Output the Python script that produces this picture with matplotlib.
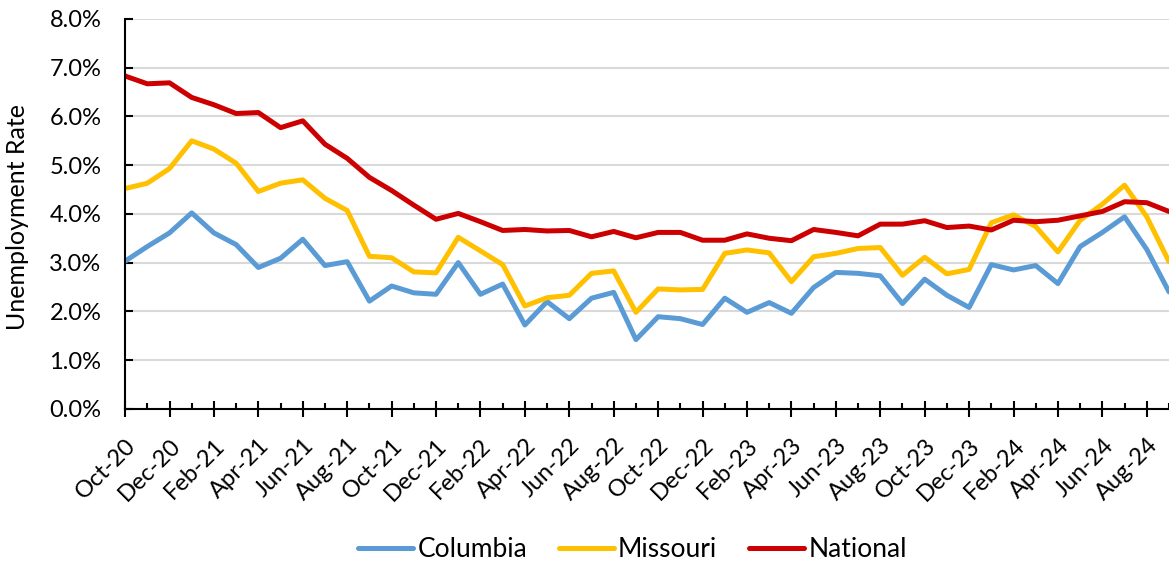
import numpy as np
import matplotlib.pyplot as plt
from matplotlib.ticker import PercentFormatter, MultipleLocator

plt.rcParams['font.family'] = ['Lato', 'DejaVu Sans']

# Monthly data, Oct-20 .. Sep-24
months = ["Oct-20", "Nov-20", "Dec-20", "Jan-21", "Feb-21", "Mar-21", "Apr-21", "May-21",
          "Jun-21", "Jul-21", "Aug-21", "Sep-21", "Oct-21", "Nov-21", "Dec-21", "Jan-22",
          "Feb-22", "Mar-22", "Apr-22", "May-22", "Jun-22", "Jul-22", "Aug-22", "Sep-22",
          "Oct-22", "Nov-22", "Dec-22", "Jan-23", "Feb-23", "Mar-23", "Apr-23", "May-23",
          "Jun-23", "Jul-23", "Aug-23", "Sep-23", "Oct-23", "Nov-23", "Dec-23", "Jan-24",
          "Feb-24", "Mar-24", "Apr-24", "May-24", "Jun-24", "Jul-24", "Aug-24", "Sep-24"]

columbia = [3.03, 3.33, 3.61, 4.02, 3.61, 3.37, 2.90, 3.09, 3.48, 2.94, 3.02, 2.21,
            2.52, 2.38, 2.35, 3.00, 2.35, 2.56, 1.72, 2.20, 1.85, 2.27, 2.39, 1.42,
            1.89, 1.85, 1.73, 2.27, 1.98, 2.18, 1.96, 2.49, 2.80, 2.78, 2.73, 2.16,
            2.66, 2.33, 2.08, 2.96, 2.85, 2.94, 2.57, 3.33, 3.62, 3.94, 3.27, 2.40]

missouri = [4.52, 4.63, 4.93, 5.50, 5.33, 5.04, 4.46, 4.63, 4.70, 4.32, 4.07, 3.13,
            3.10, 2.81, 2.79, 3.52, 3.24, 2.96, 2.11, 2.28, 2.33, 2.78, 2.83, 1.98,
            2.46, 2.44, 2.45, 3.19, 3.26, 3.20, 2.61, 3.12, 3.19, 3.29, 3.31, 2.74,
            3.11, 2.77, 2.86, 3.82, 3.98, 3.74, 3.22, 3.87, 4.20, 4.59, 3.94, 3.02]

national = [6.83, 6.67, 6.69, 6.39, 6.24, 6.06, 6.08, 5.77, 5.91, 5.43, 5.14, 4.75,
            4.48, 4.18, 3.89, 4.01, 3.84, 3.66, 3.68, 3.65, 3.66, 3.53, 3.64, 3.51,
            3.62, 3.62, 3.46, 3.46, 3.59, 3.50, 3.45, 3.68, 3.62, 3.55, 3.79, 3.79,
            3.86, 3.72, 3.75, 3.67, 3.87, 3.84, 3.87, 3.96, 4.05, 4.25, 4.23, 4.05]

x = np.arange(len(months))

fig = plt.figure(figsize=(11.69, 5.67), dpi=100)
ax = fig.add_axes([0.107, 0.279, 0.893, 0.6875])

ax.plot(x, columbia, color='#5B9BD5', lw=3.6, label='Columbia', solid_capstyle='round')
ax.plot(x, missouri, color='#FFC000', lw=3.6, label='Missouri', solid_capstyle='round')
ax.plot(x, national, color='#CC0000', lw=3.6, label='National', solid_capstyle='round')

ax.set_xlim(0, len(months) - 1)
ax.set_ylim(0, 8)
ax.yaxis.set_major_locator(MultipleLocator(1))
ax.yaxis.set_major_formatter(PercentFormatter(decimals=1))
ax.grid(axis='y', color='#D9D9D9', lw=1.5)
ax.set_axisbelow(True)

ax.set_xticks(x[::2])
ax.set_xticklabels(months[::2], rotation=45, ha='right', va='top',
                   rotation_mode='anchor', fontsize=17)
ax.set_xticks(x[1::2], minor=True)
ax.tick_params(axis='x', which='major', direction='inout', length=11, width=1.5, pad=13)
ax.tick_params(axis='x', which='minor', direction='in', length=4.5, width=1.5)
ax.tick_params(axis='y', direction='in', length=5.5, width=1.5, labelsize=17, pad=17)

for side in ['top', 'right']:
    ax.spines[side].set_visible(False)
for side in ['left', 'bottom']:
    ax.spines[side].set_linewidth(1.5)

fig.text(18 / 1169, 1 - 217 / 567, 'Unemployment Rate', rotation=90,
         ha='center', va='center', fontsize=18)

fig.legend(loc='center', bbox_to_anchor=(0.541, 0.03), ncol=3, frameon=False,
           fontsize=19, handlelength=2.1, handletextpad=0.15, columnspacing=1.2)

fig.savefig('out.png', dpi=100)
